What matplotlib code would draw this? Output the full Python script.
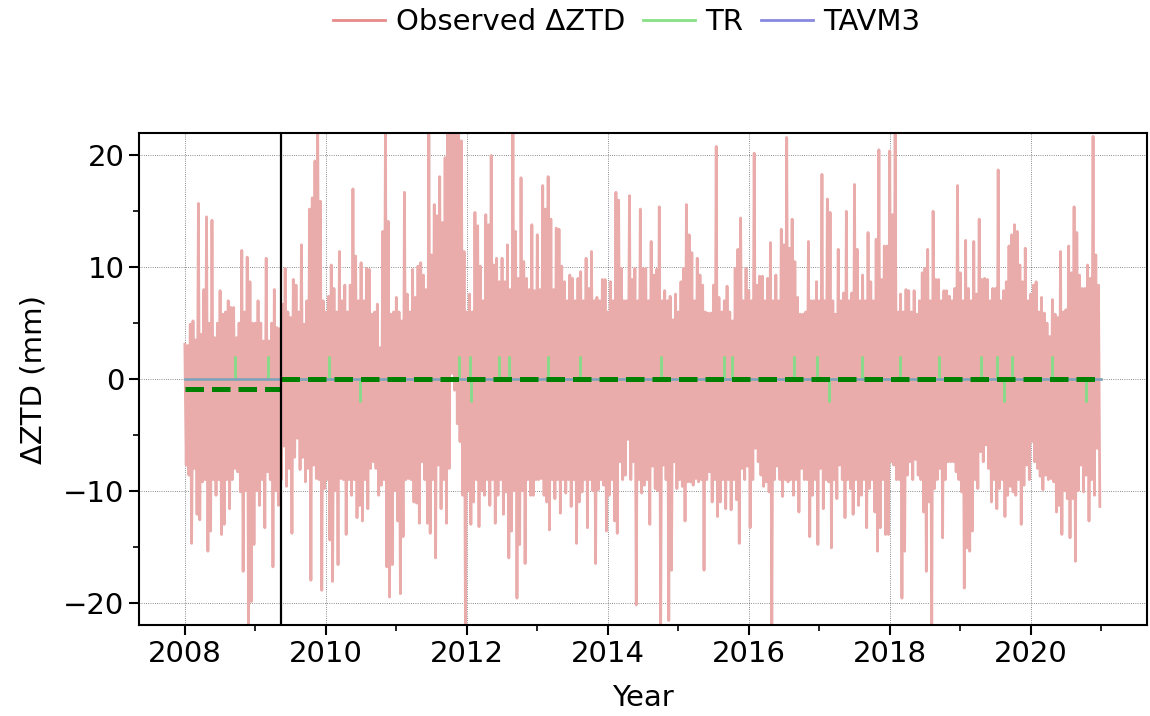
import matplotlib
matplotlib.use("Agg")
import matplotlib.pyplot as plt
import numpy as np
from matplotlib.ticker import MultipleLocator

years = list(range(2008, 2021))

# observed dZTD (mm), read off the plot as fortnightly upper / lower excursions
# one row per year, 26 values each
obs_hi = [
    3.1, 3.0, 4.9, 5.2, 3.5, 15.7, 4.0, 8.0, 14.5, 5.0, 14.2, 3.7, 5.0, 7.9, 5.8, 6.0, 7.0, 6.4, 6.4, 3.7, 5.0, 11.5, 6.0, 10.9, 8.7, 5.0,  # 2008
    5.0, 7.0, 5.0, 3.4, 10.8, 3.4, 5.0, 8.0, 4.6, 4.5, 6.7, 9.9, 6.0, 5.5, 8.9, 8.4, 6.0, 12.0, 4.9, 7.0, 15.2, 16.2, 19.5, 23.0, 15.9, 7.0,  # 2009
    6.0, 7.4, 10.2, 8.1, 6.0, 11.4, 7.0, 8.4, 6.0, 8.4, 17.0, 11.0, 7.0, 10.4, 7.0, 9.9, 9.8, 5.8, 6.0, 6.7, 2.8, 13.2, 23.0, 14.1, 5.8, 6.0,  # 2010
    7.3, 6.0, 5.2, 16.7, 7.6, 6.0, 9.8, 7.3, 10.1, 10.4, 9.3, 8.0, 23.0, 11.1, 15.6, 14.6, 18.1, 14.0, 19.8, 23.0, 23.0, 23.0, 23.0, 22.0, 21.3, 11.4,  # 2011
    6.0, 7.6, 6.0, 14.9, 13.7, 10.1, 7.0, 14.7, 13.8, 20.0, 10.2, 10.8, 8.7, 10.8, 8.7, 12.0, 8.0, 23.0, 13.2, 9.0, 18.0, 10.5, 9.0, 8.0, 13.8, 7.9,  # 2012
    12.9, 8.0, 17.3, 15.2, 18.1, 14.3, 8.0, 13.5, 13.4, 10.1, 8.7, 7.0, 9.3, 9.0, 7.0, 9.0, 9.6, 7.0, 10.8, 8.1, 11.4, 7.0, 7.3, 7.0, 8.9, 8.9,  # 2013
    6.0, 8.7, 7.0, 16.7, 16.0, 9.9, 7.0, 7.0, 16.4, 8.9, 9.9, 7.0, 15.2, 9.9, 9.9, 7.0, 12.3, 9.3, 9.8, 15.4, 7.0, 7.9, 7.0, 7.4, 5.3, 7.6,  # 2014
    6.0, 8.7, 9.9, 15.6, 12.9, 11.3, 7.0, 10.8, 9.3, 8.4, 6.0, 5.9, 5.9, 8.4, 20.8, 7.3, 6.0, 7.0, 8.3, 6.0, 5.2, 9.9, 11.6, 14.4, 7.0, 9.9,  # 2015
    7.9, 7.0, 20.2, 8.4, 9.2, 9.2, 7.0, 9.0, 12.2, 7.0, 9.3, 7.0, 13.4, 12.0, 21.6, 11.7, 14.3, 10.5, 7.3, 5.8, 5.8, 6.0, 12.3, 7.0, 7.0, 8.7,  # 2016
    7.0, 18.3, 7.0, 16.1, 14.9, 7.0, 5.8, 11.6, 7.0, 7.7, 15.0, 7.0, 7.7, 17.4, 11.6, 7.0, 9.3, 7.0, 13.1, 8.7, 7.0, 12.5, 20.5, 8.9, 11.9, 11.9,  # 2017
    20.4, 14.7, 23.0, 6.0, 7.6, 6.0, 8.0, 7.9, 6.0, 7.9, 5.8, 7.0, 9.5, 9.9, 11.6, 7.0, 15.0, 8.9, 8.9, 7.0, 7.9, 7.9, 7.4, 7.0, 8.1, 17.3,  # 2018
    9.5, 7.0, 12.4, 8.1, 7.0, 12.3, 7.6, 14.3, 8.9, 9.0, 8.9, 7.0, 8.1, 8.1, 18.7, 7.0, 7.9, 8.7, 11.9, 12.9, 13.8, 13.2, 10.2, 8.7, 11.7, 7.0,  # 2019
    7.6, 8.4, 8.7, 6.0, 7.3, 5.9, 5.0, 3.8, 7.1, 5.8, 5.5, 11.4, 6.0, 6.2, 11.9, 9.5, 15.4, 13.1, 9.3, 8.1, 8.1, 10.2, 9.0, 21.7, 11.1, 8.4,  # 2020
]
obs_lo = [
    -7.7, -8.6, -14.7, -8.0, -12.1, -12.6, -9.2, -9.0, -15.4, -13.6, -9.0, -10.4, -9.0, -13.9, -13.0, -9.0, -11.6, -9.0, -8.0, -8.3, -10.1, -17.2, -10.0, -23.0, -19.9, -14.8,  # 2008
    -10.0, -11.3, -9.0, -13.3, -8.3, -9.0, -16.8, -10.0, -11.3, -9.0, -6.0, -9.6, -8.0, -13.8, -7.0, -5.3, -8.1, -7.0, -9.2, -8.0, -18.0, -7.7, -8.9, -9.0, -18.9, -9.8,  # 2009
    -9.0, -14.4, -18.1, -10.0, -16.6, -8.9, -9.0, -13.9, -9.0, -10.4, -9.0, -12.4, -11.3, -12.7, -9.0, -11.6, -8.0, -7.4, -8.0, -10.4, -9.5, -9.0, -16.8, -19.5, -16.6, -10.0,  # 2010
    -12.7, -19.2, -14.1, -9.0, -8.9, -9.0, -11.0, -11.1, -12.9, -7.4, -9.0, -12.9, -13.8, -9.0, -16.0, -7.7, -11.6, -9.0, -12.9, -8.0, 0.5, -1.0, -4.0, -5.6, -10.4, -23.0,  # 2011
    -10.0, -13.0, -11.0, -9.0, -13.2, -10.0, -10.4, -9.0, -11.3, -9.0, -12.9, -10.4, -9.0, -12.1, -10.1, -16.0, -13.6, -10.0, -19.6, -14.8, -10.0, -16.5, -9.0, -10.4, -10.4, -9.0,  # 2012
    -9.0, -8.9, -10.4, -11.0, -13.5, -9.0, -10.7, -9.0, -12.0, -9.0, -10.2, -9.0, -11.4, -9.0, -14.7, -11.0, -10.1, -9.0, -13.3, -9.0, -10.0, -16.5, -9.9, -9.0, -9.5, -13.6,  # 2013
    -10.4, -9.0, -12.7, -13.8, -7.4, -9.0, -8.6, -5.4, -9.0, -7.4, -20.2, -9.0, -10.2, -9.5, -9.0, -13.0, -7.8, -9.8, -10.0, -23.0, -7.7, -9.0, -21.6, -17.1, -7.4, -9.8,  # 2014
    -9.0, -9.6, -12.7, -9.2, -9.2, -9.5, -8.9, -9.2, -9.0, -17.1, -9.0, -8.3, -11.0, -9.0, -12.3, -11.0, -9.0, -11.6, -9.0, -11.7, -9.0, -10.8, -14.7, -8.0, -9.0, -7.8,  # 2015
    -13.3, -9.0, -6.2, -7.4, -8.6, -9.6, -9.2, -10.1, -23.0, -9.0, -7.8, -9.0, -10.5, -9.0, -9.2, -9.0, -10.4, -9.0, -11.9, -8.0, -9.0, -9.0, -14.1, -10.4, -9.0, -14.8,  # 2016
    -8.0, -11.6, -9.0, -9.2, -15.1, -9.0, -10.7, -7.7, -9.0, -12.4, -9.0, -9.8, -12.1, -9.0, -11.3, -10.4, -9.0, -13.3, -9.8, -9.0, -11.9, -15.4, -13.3, -9.0, -13.9, -13.9,  # 2017
    -7.4, -7.7, -9.0, -9.0, -19.6, -15.4, -8.6, -7.4, -9.0, -7.2, -8.6, -9.0, -11.9, -17.2, -11.0, -23.0, -9.8, -9.0, -8.0, -14.2, -9.0, -7.4, -7.4, -7.4, -8.3, -9.0,  # 2018
    -10.1, -18.7, -15.1, -15.4, -13.6, -9.0, -9.8, -6.5, -7.4, -5.9, -8.0, -11.0, -9.0, -11.6, -9.8, -9.0, -12.3, -10.4, -9.6, -10.1, -10.4, -9.0, -13.0, -9.5, -7.7, -9.0,  # 2019
    -5.6, -7.4, -8.0, -8.7, -9.9, -8.6, -9.0, -8.9, -9.2, -11.9, -11.3, -13.9, -10.0, -10.7, -14.2, -10.7, -16.3, -10.0, -7.7, -10.1, -8.6, -12.7, -9.0, -10.4, -6.2, -11.4,  # 2020
]

# TR detected breaks (decimal year) and the sign of the spike drawn
tr_dates = [2008.71, 2009.18, 2010.05, 2010.49, 2011.89, 2012.05, 2012.06, 2012.45, 2012.60,
            2013.15, 2013.61, 2014.76, 2015.65, 2015.76, 2016.64, 2016.97, 2017.14, 2017.60,
            2018.15, 2018.70, 2019.30, 2019.52, 2019.62, 2019.74, 2020.30, 2020.79]
tr_jump = [2, 2, 2, -2, 2, 2, -2, 2, 2,
           2, 2, 2, 2, 2, 2, 2, -2, 2,
           2, 2, 2, 2, -2, 2, 2, -2]

# segment means (green dashed) and the break (black line)
seg_bounds = [2008.0, 2009.365, 2021.0]
seg_means = [-0.9, 0.0]
break_year = 2009.365


def build_observed():
    t = []
    v = []
    for n, yr in enumerate(years):
        hi = obs_hi[n * 26:(n + 1) * 26]
        lo = obs_lo[n * 26:(n + 1) * 26]
        for k in range(26):
            t.append(yr + (2 * k) / 52.0)
            v.append(hi[k])
            t.append(yr + (2 * k + 1) / 52.0)
            v.append(lo[k])
    return np.array(t), np.array(v)


def build_tr():
    t = [seg_bounds[0]]
    v = [0.0]
    for d, j in zip(tr_dates, tr_jump):
        t += [d, d, d]
        v += [0.0, j, 0.0]
    t.append(seg_bounds[-1])
    v.append(0.0)
    return t, v


t_obs, v_obs = build_observed()
t_tr, v_tr = build_tr()

plt.rcParams['font.family'] = ['DejaVu Sans']
plt.rcParams['font.size'] = 21

fig = plt.figure(figsize=(11.5, 7.16), dpi=100)
ax = fig.add_axes([0.1209, 0.1271, 0.8765, 0.6871])

ax.plot(t_obs, v_obs, color='#eaabab', lw=2.0, zorder=2)
ax.plot(t_tr, v_tr, color='#8ad88a', lw=1.8, zorder=3)
ax.plot([seg_bounds[0], seg_bounds[-1]], [0, 0], color='#7a7ae0', lw=1.8,
        alpha=0.6, zorder=4)

for i in range(len(seg_means)):
    ax.plot([seg_bounds[i], seg_bounds[i + 1]], [seg_means[i], seg_means[i]],
            color='green', lw=3.6, ls='--', zorder=5)

ax.axvline(break_year, color='black', lw=1.6, zorder=6)

ax.set_xlim(2007.35, 2021.65)
ax.set_ylim(-22, 22)
ax.xaxis.set_major_locator(MultipleLocator(2))
ax.xaxis.set_minor_locator(MultipleLocator(1))
ax.yaxis.set_major_locator(MultipleLocator(10))
ax.yaxis.set_minor_locator(MultipleLocator(5))
ax.grid(True, which='major', color='black', ls=':', lw=0.6, alpha=0.6)
ax.tick_params(which='major', length=7, width=1.5)
ax.tick_params(which='minor', length=4, width=1.2)
for s in ax.spines.values():
    s.set_linewidth(1.5)

ax.set_xlabel('Year', labelpad=12)
ax.set_ylabel('ΔZTD (mm)', labelpad=11)

leg_handles = [plt.Line2D([], [], color='#e88a8a', lw=2),
               plt.Line2D([], [], color='#86e086', lw=2),
               plt.Line2D([], [], color='#8888e0', lw=2)]
fig.legend(leg_handles, ['Observed ΔZTD', 'TR', 'TAVM3'], loc='upper center',
           bbox_to_anchor=(0.545, 1.025), ncol=3, frameon=False,
           handlelength=1.8, handletextpad=0.35, columnspacing=0.6)

fig.savefig('out.png', dpi=100)
